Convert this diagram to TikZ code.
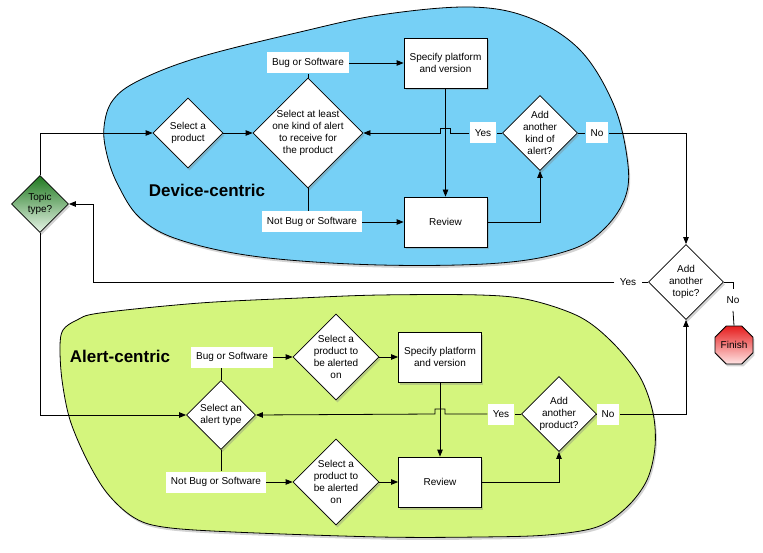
\documentclass[tikz,border=0pt]{standalone}
\usepackage{fontspec}
\setmainfont{Liberation Sans}
\usetikzlibrary{shapes.geometric,arrows.meta,shadows,calc}
\definecolor{devblue}{RGB}{118,208,246}
\definecolor{alertgreen}{RGB}{212,245,125}
\tikzset{
  every node/.style={font=\fontsize{10}{12}\selectfont},
  every label/.append style={align=center},
  dshadow/.style={drop shadow={shadow xshift=1.5pt,shadow yshift=-2.5pt,opacity=.35}},
  box/.style={rectangle,draw,fill=white,minimum width=83pt,minimum height=50pt,align=center,dshadow},
  dia/.style={diamond,draw,fill=white,minimum size=#1,inner sep=0pt,dshadow},
  tag/.style={fill=white,inner xsep=5pt,inner ysep=0pt,minimum height=21pt},
  region/.style={font=\fontsize{17}{20}\selectfont\bfseries},
}
\begin{document}
\begin{tikzpicture}[x=1pt,y=-1pt,line width=0.8pt,>={Triangle[length=7pt,width=5.5pt]}]
\useasboundingbox (0,0) rectangle (763,553);
\draw[fill=devblue,dshadow] plot[smooth cycle,tension=0.6] coordinates{(104,127) (113,100) (140,80) (200,57) (300,32) (380,15) (470,7) (530,18) (580,50) (613,103) (627,157) (626,195) (605,228) (570,250) (500,263) (380,265) (260,257) (180,240) (140,218) (118,185) (107,155)};
\draw[fill=alertgreen,dshadow] plot[smooth cycle,tension=0.55] coordinates{(63,330) (77,320) (100,313) (200,303) (300,298) (380,295) (480,295) (530,300) (580,317) (613,343) (640,377) (653,413) (655,447) (647,480) (627,507) (597,527) (547,535) (480,537) (380,537) (233,532) (163,527) (133,517) (107,493) (87,460) (70,420) (62,380) (60,347)};
\node[region] (devL) at (207,190) {Device-centric};
\node[region] (alertL) at (120,356) {Alert-centric};

\node[dia=57pt,top color={rgb,255:red,30;green,120;blue,30},bottom color={rgb,255:red,232;green,245;blue,232},label=center:{Topic\\type?}] (topic) at (40,204) {};
\node[dia=70pt,label=center:{Select a\\product}] (prodD) at (188,133) {};
\node[dia=110pt,label=center:{Select at least\\one kind of alert\\to receive for\\the product}] (kindD) at (308,133) {};
\node[tag] (bugD) at (308,63) {Bug or Software};
\node[tag] (notD) at (312,222) {Not Bug or Software};
\node[box] (specD) at (445.5,63) {Specify platform\\and version};
\node[box] (revD) at (445.5,222) {Review};
\node[dia=75pt,label=center:{Add\\another\\kind of\\alert?}] (moreK) at (540,133) {};
\node[tag] (yesK) at (483,133) {Yes};
\node[tag] (noK) at (597,133) {No};
\node[dia=75pt,label=center:{Add\\another\\topic?}] (moreT) at (686,282) {};
\node[tag] (yesT) at (628,282) {Yes};
\node[tag] (noT) at (733,300) {No};
\node[regular polygon,regular polygon sides=8,draw,minimum size=41pt,inner sep=0pt,top color={rgb,255:red,230;green,30;blue,30},bottom color={rgb,255:red,255;green,228;blue,228},dshadow] (fin) at (734,345) {Finish};
\coordinate (back) at (93,204);

\node[dia=69pt,label=center:{Select an\\alert type}] (typeA) at (221,415) {};
\node[tag] (bugA) at (232,357) {Bug or Software};
\node[tag] (notA) at (216,482) {Not Bug or Software};
\node[dia=86pt,label=center:{Select a\\product to\\be alerted\\on}] (prodA1) at (336,357) {};
\node[dia=86pt,label=center:{Select a\\product to\\be alerted\\on}] (prodA2) at (336,482) {};
\node[box] (specA) at (440,357) {Specify platform\\and version};
\node[box] (revA) at (440,482) {Review};
\node[dia=75pt,label=center:{Add\\another\\product?}] (moreP) at (559,414) {};
\node[tag] (yesP) at (501,414) {Yes};
\node[tag] (noP) at (608,414) {No};

\draw[->] (topic.north) |- (prodD.west);
\draw[->] (topic.south) |- (typeA.west);
\draw[->] (prodD.east) -- (kindD.west);
\draw (kindD.north) -- (bugD.south);
\draw[->] (bugD.east) -- (bugD.east -| specD.west);
\draw (kindD.south) -- (kindD.south |- notD.north);
\draw[->] (notD.east) -- (notD.east -| revD.west);
\draw[->] (specD.south) -- (revD.north);
\draw[->] (revD.east) -| (moreK.south);
\draw (moreK.west) -- (yesK.east);
\draw[->] (yesK.west) -- ($(specD.south |- yesK.west)+(5,0)$) -- ++(0,-5) -- ++(-10,0) -- ++(0,5) -- (kindD.east);
\draw (moreK.east) -- (noK.west);
\draw[->] (noK.east) -| (moreT.north);
\draw (moreT.west) -- (yesT.east);
\draw[->] (yesT.west) -| (back) -- (topic.east);
\draw (moreT.east) -| (noT.north);
\draw (noT.south) -- (fin.north);

\draw (typeA.north) -- (typeA.north |- bugA.south);
\draw[->] (bugA.east) -- (prodA1.west);
\draw[->] (prodA1.east) -- (specA.west);
\draw (typeA.south) -- (typeA.south |- notA.north);
\draw[->] (notA.east) -- (prodA2.west);
\draw[->] (prodA2.east) -- (revA.west);
\draw[->] (specA.south) -- (revA.north);
\draw[->] (revA.east) -| (moreP.south);
\draw (moreP.west) -- (yesP.east);
\draw[->] (yesP.west) -- ($(specA.south |- yesP.west)+(5,0)$) -- ++(0,-5) -- ++(-10,0) -- ++(0,5) -- (typeA.east);
\draw (moreP.east) -- (noP.west);
\draw[->] (noP.east) -| (moreT.south);
\end{tikzpicture}
\end{document}
